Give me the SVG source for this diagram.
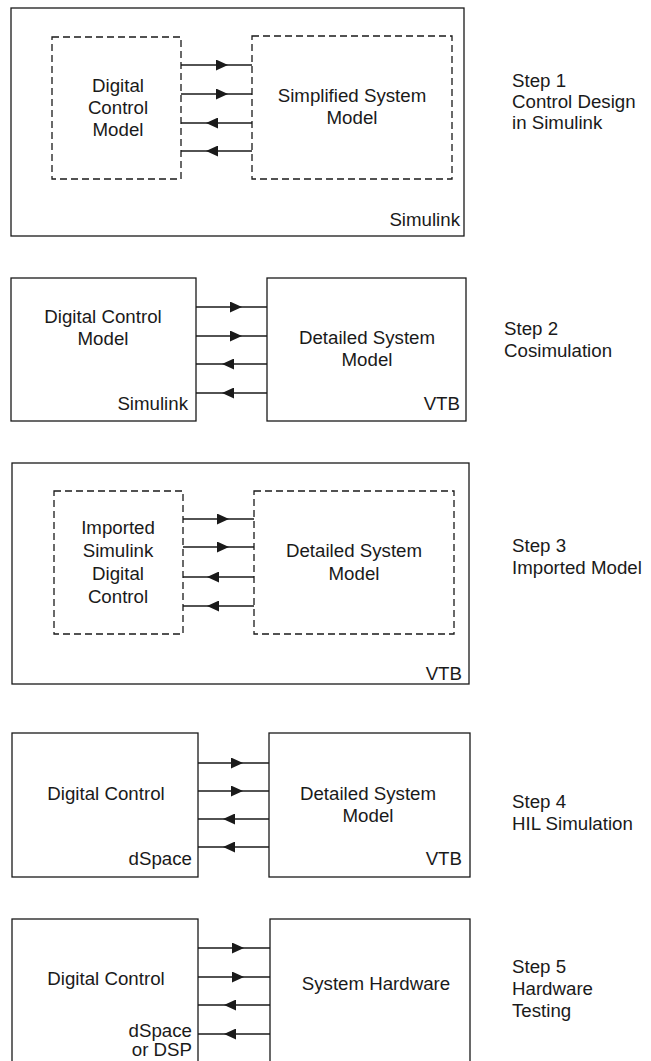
<svg xmlns="http://www.w3.org/2000/svg" width="651" height="1061" viewBox="0 0 651 1061">
<style>
.box{fill:none;stroke:#1a1a1a;stroke-width:1.3}
.dash{fill:none;stroke:#1a1a1a;stroke-width:1.3;stroke-dasharray:7 4}
.wire{fill:none;stroke:#1a1a1a;stroke-width:1.3;marker-mid:url(#ah)}
text{font-family:"Liberation Sans",Arial,sans-serif;font-size:18.7px;fill:#1a1a1a}
.c{text-anchor:middle}
.r{text-anchor:end}
</style>
<defs>
<marker id="ah" viewBox="0 0 12 11" refX="12" refY="5.5" markerWidth="12" markerHeight="11" markerUnits="userSpaceOnUse" orient="auto">
<path d="M0,0 L12,5.5 L0,11 z" fill="#1a1a1a"/>
</marker>
</defs>
<rect width="651" height="1061" fill="#ffffff"/>

<g id="step1">
<rect class="box" x="11" y="8" width="453" height="228"/>
<text class="r" x="460" y="226">Simulink</text>
<text x="512" y="87">Step 1</text>
<text x="512" y="108">Control Design</text>
<text x="512" y="129">in Simulink</text>
</g>
<g id="s1-control">
<rect class="dash" x="52" y="37" width="129" height="142"/>
<text class="c" x="118" y="92">Digital</text>
<text class="c" x="118" y="114">Control</text>
<text class="c" x="118" y="136">Model</text>
</g>
<g id="s1-system">
<rect class="dash" x="252" y="36" width="200" height="143"/>
<text class="c" x="352" y="102">Simplified System</text>
<text class="c" x="352" y="124">Model</text>
</g>

<g id="step2">
<text x="504" y="335">Step 2</text>
<text x="504" y="357">Cosimulation</text>
</g>
<g id="s2-control">
<rect class="box" x="11" y="278" width="185" height="143"/>
<text class="c" x="103" y="323">Digital Control</text>
<text class="c" x="103" y="345">Model</text>
<text class="r" x="188" y="410">Simulink</text>
</g>
<g id="s2-system">
<rect class="box" x="267" y="278" width="199" height="143"/>
<text class="c" x="367" y="344">Detailed System</text>
<text class="c" x="367" y="366">Model</text>
<text class="r" x="460" y="410">VTB</text>
</g>

<g id="step3">
<rect class="box" x="12" y="463" width="457" height="221"/>
<text class="r" x="462" y="680">VTB</text>
<text x="512" y="552">Step 3</text>
<text x="512" y="574">Imported Model</text>
</g>
<g id="s3-control">
<rect class="dash" x="54" y="491" width="129" height="143"/>
<text class="c" x="118" y="534">Imported</text>
<text class="c" x="118" y="557">Simulink</text>
<text class="c" x="118" y="580">Digital</text>
<text class="c" x="118" y="603">Control</text>
</g>
<g id="s3-system">
<rect class="dash" x="254" y="491" width="200" height="143"/>
<text class="c" x="354" y="557">Detailed System</text>
<text class="c" x="354" y="580">Model</text>
</g>

<g id="step4">
<text x="512" y="808">Step 4</text>
<text x="512" y="830">HIL Simulation</text>
</g>
<g id="s4-control">
<rect class="box" x="12" y="733" width="186" height="144"/>
<text class="c" x="106" y="800">Digital Control</text>
<text class="r" x="192" y="865">dSpace</text>
</g>
<g id="s4-system">
<rect class="box" x="269" y="733" width="201" height="144"/>
<text class="c" x="368" y="800">Detailed System</text>
<text class="c" x="368" y="822">Model</text>
<text class="r" x="462" y="865">VTB</text>
</g>

<g id="step5">
<text x="512" y="973">Step 5</text>
<text x="512" y="995">Hardware</text>
<text x="512" y="1017">Testing</text>
</g>
<g id="s5-control">
<rect class="box" x="12" y="919" width="186" height="160"/>
<text class="c" x="106" y="985">Digital Control</text>
<text class="r" x="192" y="1037">dSpace</text>
<text class="r" x="192" y="1056">or DSP</text>
</g>
<g id="s5-system">
<rect class="box" x="270" y="919" width="200" height="160"/>
<text class="c" x="376" y="990">System Hardware</text>
</g>

<g id="connectors">
<path class="wire" d="M181,65 L228,65 L252,65"/>
<path class="wire" d="M181,94 L228,94 L252,94"/>
<path class="wire" d="M252,123 L206,123 L181,123"/>
<path class="wire" d="M252,151 L206,151 L181,151"/>

<path class="wire" d="M196,307 L242,307 L267,307"/>
<path class="wire" d="M196,336 L242,336 L267,336"/>
<path class="wire" d="M267,364 L222,364 L196,364"/>
<path class="wire" d="M267,393 L222,393 L196,393"/>

<path class="wire" d="M183,519 L229,519 L254,519"/>
<path class="wire" d="M183,547 L229,547 L254,547"/>
<path class="wire" d="M254,577 L207,577 L183,577"/>
<path class="wire" d="M254,606 L207,606 L183,606"/>

<path class="wire" d="M198,763 L243,763 L269,763"/>
<path class="wire" d="M198,791 L243,791 L269,791"/>
<path class="wire" d="M269,819 L223,819 L198,819"/>
<path class="wire" d="M269,847 L223,847 L198,847"/>

<path class="wire" d="M198,948 L244,948 L270,948"/>
<path class="wire" d="M198,977 L244,977 L270,977"/>
<path class="wire" d="M270,1005 L224,1005 L198,1005"/>
<path class="wire" d="M270,1034 L224,1034 L198,1034"/>
</g>
</svg>
